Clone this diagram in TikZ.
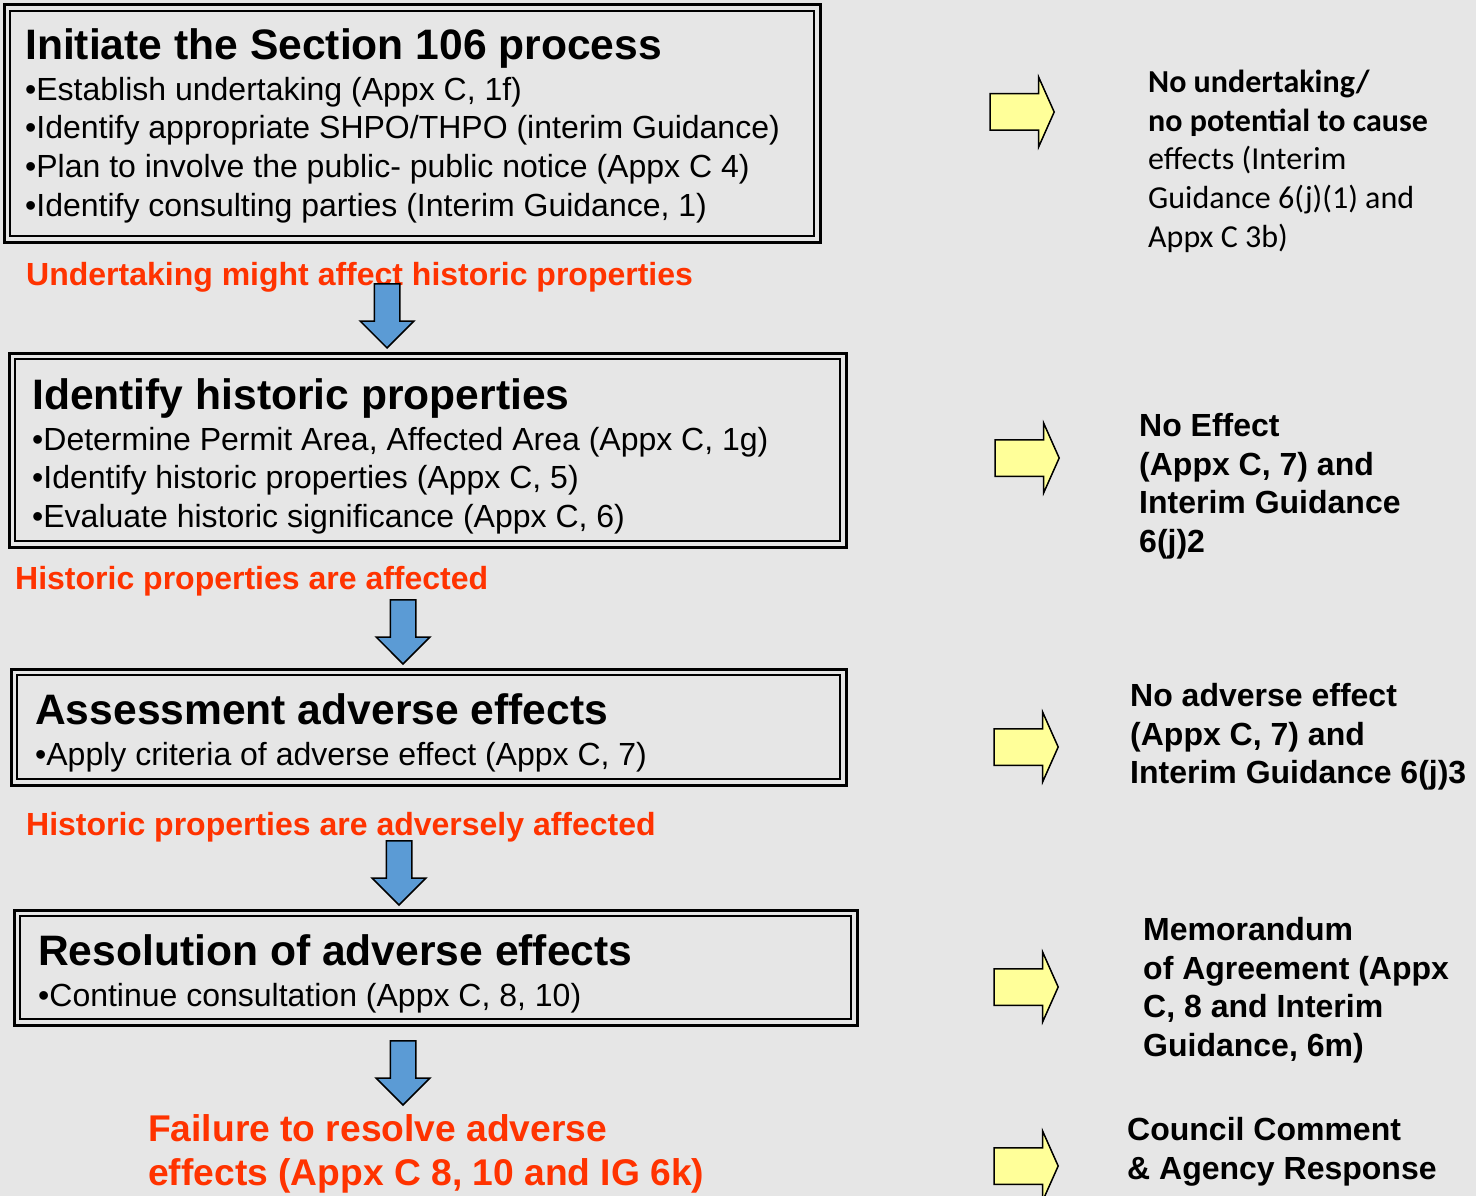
\documentclass[tikz,border=0pt]{standalone}
\usepackage{fontspec}
\setmainfont{Liberation Sans}
\newfontfamily\calfont{Carlito}
\usetikzlibrary{shapes.arrows,calc}
\definecolor{bggray}{HTML}{E6E6E6}
\definecolor{flowblue}{HTML}{5B9BD5}
\definecolor{flowyellow}{HTML}{FFFF99}
\definecolor{condred}{HTML}{FF3300}
\begin{document}
\begin{tikzpicture}[x=1pt,y=-1pt,
  obox/.style={draw, rectangle, line width=3pt, inner sep=0, outer sep=0},
  ibox/.style={line width=2pt},
  title/.style={anchor=base west, inner sep=0, font=\fontsize{42.6}{50}\selectfont\bfseries},
  item/.style={anchor=base west, inner sep=0, font=\fontsize{32}{38}\selectfont},
  cond/.style={anchor=base west, inner sep=0, text=condred, font=\fontsize{32}{38}\selectfont\bfseries},
  note/.style={anchor=base west, inner sep=0, font=\fontsize{32}{38}\selectfont\bfseries},
  downarrow/.style={single arrow, draw, line width=1.5pt, fill=flowblue, rotate=-90, anchor=tip,
    inner xsep=0, inner ysep=12pt, minimum height=64pt, single arrow head extend=14pt},
  fwdarrow/.style={single arrow, draw, line width=1.5pt, fill=flowyellow, anchor=tip,
    inner xsep=0, inner ysep=17.5pt, minimum height=64pt, single arrow head extend=16.5pt,
    single arrow tip angle=132}]
\useasboundingbox (0,0) rectangle (1476,1196);
\clip (0,0) rectangle (1476,1196);
\fill[bggray] (0,0) rectangle (1476,1196);

\node[obox, minimum width=816, minimum height=237] (box1) at (412,123.5) {};
\draw[ibox] ($(box1.north west)+(6,6)$) rectangle ($(box1.south east)+(-6,-6)$);
\node[title] (t1) at (25,60) {Initiate the Section 106 process};
\foreach \t [count=\i from 0] in {{•Establish undertaking (Appx C, 1f)},
  {•Identify appropriate SHPO/THPO (interim Guidance)},
  {•Plan to involve the public- public notice (Appx C 4)},
  {•Identify consulting parties (Interim Guidance, 1)}}
  \node[item] (s1\i) at (25,{100.5+38.5*\i}) {\t};

\node[obox, minimum width=837, minimum height=194] (box2) at (427.5,450) {};
\draw[ibox] ($(box2.north west)+(6,6)$) rectangle ($(box2.south east)+(-6,-6)$);
\node[title] (t2) at (32,409) {Identify historic properties};
\foreach \t [count=\i from 0] in {{•Determine Permit Area, Affected Area (Appx C, 1g)},
  {•Identify historic properties (Appx C, 5)},
  {•Evaluate historic significance (Appx C, 6)}}
  \node[item] (s2\i) at (32,{450+38.5*\i}) {\t};

\node[obox, minimum width=835, minimum height=116] (box3) at (428.5,727) {};
\draw[ibox] ($(box3.north west)+(6,6)$) rectangle ($(box3.south east)+(-6,-6)$);
\node[title] (t3) at (35,724) {Assessment adverse effects};
\node[item] (s30) at (35,765) {•Apply criteria of adverse effect (Appx C, 7)};

\node[obox, minimum width=843, minimum height=115] (box4) at (435.5,967.5) {};
\draw[ibox] ($(box4.north west)+(6,6)$) rectangle ($(box4.south east)+(-6,-6)$);
\node[title] (t4) at (38,965) {Resolution of adverse effects};
\node[item] (s40) at (38,1006) {•Continue consultation (Appx C, 8, 10)};

\node[cond] (c1) at (26,285) {Undertaking might affect historic properties};
\node[cond] (c2) at (15,589) {Historic properties are affected};
\node[cond] (c3) at (26,835) {Historic properties are adversely affected};
\node[cond, font=\fontsize{37.2}{44}\selectfont\bfseries] (c4) at (148,1141) {Failure to resolve adverse};
\node[cond, font=\fontsize{37.2}{44}\selectfont\bfseries] (c5) at (148,1185) {effects (Appx C 8, 10 and IG 6k)};

\node[downarrow] (d1) at (387,349) {};
\node[downarrow] (d2) at (403,665) {};
\node[downarrow] (d3) at (399,906) {};
\node[downarrow] (d4) at (403,1106) {};

\node[fwdarrow] (f1) at (1055,112) {};
\node[fwdarrow] (f2) at (1060,458) {};
\node[fwdarrow] (f3) at (1059,747) {};
\node[fwdarrow] (f4) at (1059,987) {};
\node[fwdarrow] (f5) at (1059,1166) {};

\foreach \t [count=\i from 0] in {{\bfseries No undertaking/},
  {\bfseries no potential to cause}, {effects (Interim},
  {Guidance 6(j)(1) and}, {Appx C 3b)}}
  \node[note, font=\fontsize{32}{38}\calfont] (n1\i) at (1148,{93+38.5*\i}) {\t};
\foreach \t [count=\i from 0] in {{No Effect}, {(Appx C, 7) and},
  {Interim Guidance}, {6(j)2}}
  \node[note] (n2\i) at (1139,{436.5+38.5*\i}) {\t};
\foreach \t [count=\i from 0] in {{No adverse effect}, {(Appx C, 7) and},
  {Interim Guidance 6(j)3}}
  \node[note] (n3\i) at (1130,{706.5+38.5*\i}) {\t};
\foreach \t [count=\i from 0] in {{Memorandum}, {of Agreement (Appx},
  {C, 8 and Interim}, {Guidance, 6m)}}
  \node[note] (n4\i) at (1143,{940.5+38.5*\i}) {\t};
\foreach \t [count=\i from 0] in {{Council Comment}, {\& Agency Response}}
  \node[note] (n5\i) at (1127,{1140.5+38.5*\i}) {\t};
\end{tikzpicture}
\end{document}
